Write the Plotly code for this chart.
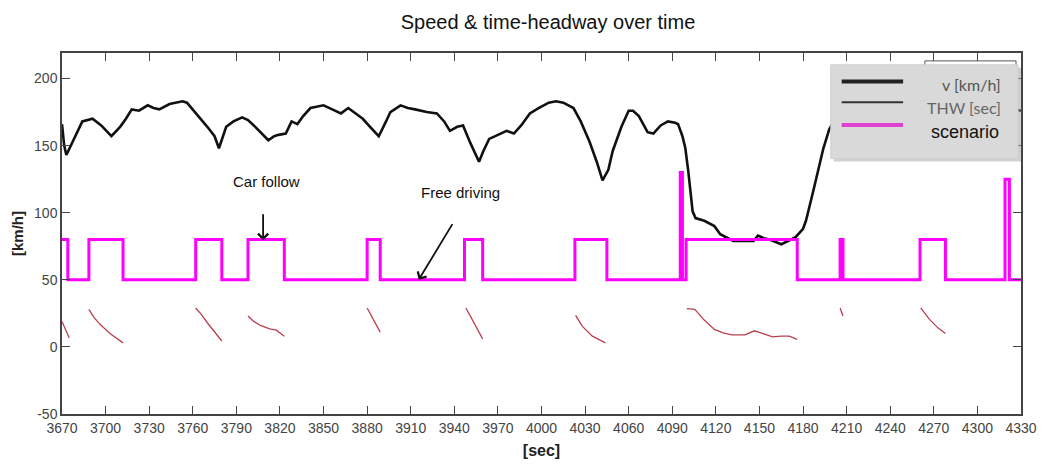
import plotly.graph_objects as go

# ---------------- data ----------------
speed_t = [3670, 3671.5, 3673, 3676, 3680, 3684, 3691, 3697, 3704, 3710, 3714, 3718, 3723, 3729, 3733,
           3737, 3744, 3753, 3756, 3760, 3765, 3770, 3775, 3778, 3783, 3788, 3794, 3798, 3803, 3808,
           3812, 3816, 3819, 3824, 3828, 3832, 3836, 3841, 3850, 3856, 3862, 3867, 3873, 3877, 3882,
           3888, 3893, 3896, 3903, 3908, 3913, 3921, 3928, 3933, 3937, 3942, 3946, 3951, 3957, 3960,
           3964, 3970, 3976, 3981, 3986, 3992, 3998, 4005, 4010, 4015, 4022, 4027, 4033, 4038, 4042,
           4046, 4049, 4055, 4060, 4063, 4067, 4073, 4077, 4082, 4087, 4092, 4094, 4097, 4099, 4101,
           4104, 4106, 4112, 4119, 4123, 4132, 4140, 4146, 4149, 4153, 4157, 4161, 4165, 4170, 4175,
           4180, 4182, 4187, 4190, 4194, 4198, 4201, 4205, 4215, 4230, 4245, 4260, 4275, 4290, 4305,
           4320, 4330]
speed_v = [166, 150, 143, 150, 160, 168, 170, 165, 157, 164, 170, 177, 176, 180, 178,
           177, 181, 183, 182, 177, 170, 164, 157, 148, 164, 168, 171, 169, 164, 158,
           154, 157, 158, 159, 168, 166, 172, 178, 180, 177, 174, 178, 173, 170, 164,
           157, 168, 175, 180, 178, 177, 175, 174, 168, 161, 164, 165, 152, 138, 146,
           155, 158, 161, 159, 165, 174, 178, 182, 183, 182, 178, 168, 153, 138, 124,
           132, 146, 164, 176, 176, 172, 160, 159, 165, 168, 167, 166, 157, 148, 131,
           101, 96, 94, 90, 84, 79, 79, 79, 83, 81, 80, 78, 76.5, 79, 82,
           88, 94, 116, 130, 148, 162, 168, 174, 178, 176, 180, 177, 181, 178, 175,
           178, 176]

scen_t = [3670, 3674, 3688.5, 3712, 3762, 3780, 3798, 3823, 3880, 3889, 3947, 3959.5, 4023, 4045,
          4095.5, 4097, 4099.5, 4176, 4205.5, 4207.5, 4260.5, 4278, 4319, 4322, 4330]
scen_v = [80, 50, 80, 50, 80, 50, 80, 50, 80, 50, 80, 50, 80, 50,
          130, 50, 80, 50, 80, 50, 80, 50, 125, 50, 50]

thw_segments_t = [
    [3670, 3672.5, 3675],
    [3688.5, 3692, 3696, 3703, 3712],
    [3762, 3766, 3770, 3775, 3780],
    [3798, 3802, 3806.5, 3813, 3817.5, 3823],
    [3880, 3884.5, 3889],
    [3948, 3953, 3959.5],
    [4023.5, 4028, 4035, 4044],
    [4100, 4105.5, 4112, 4119, 4125, 4131, 4140, 4146.5, 4153.5, 4159, 4165, 4170.5, 4176],
    [4205.5, 4207.5],
    [4261, 4267, 4273, 4278],
]
thw_segments_v = [
    [19, 13, 6.6],
    [28, 22, 17, 10, 3],
    [29, 24, 18, 11, 4.4],
    [23, 19, 16, 13.5, 12.5, 8],
    [29, 20, 11],
    [29, 19, 6],
    [23.5, 15.5, 8, 3],
    [28.5, 28, 20, 13, 10.5, 9, 9, 12, 9.6, 7.5, 8, 8, 5.6],
    [29, 23],
    [29, 20.5, 14, 10],
]

x_ticks = list(range(3670, 4331, 30))
y_ticks = [-50, 0, 50, 100, 150, 200]

# flatten THW segments with gaps
thw_t, thw_v = [], []
for ts, vs in zip(thw_segments_t, thw_segments_v):
    thw_t += ts + [None]
    thw_v += vs + [None]

fig = go.Figure()
fig.add_trace(go.Scatter(x=speed_t, y=speed_v, mode="lines", name="v [km/h]",
                         line=dict(color="#111111", width=2.6), showlegend=False))
fig.add_trace(go.Scatter(x=thw_t, y=thw_v, mode="lines", name="THW [sec]",
                         line=dict(color="#b8404e", width=1.3), connectgaps=False, showlegend=False))
fig.add_trace(go.Scatter(x=scen_t, y=scen_v, mode="lines", name="scenario", line_shape="hv",
                         line=dict(color="#ff00ff", width=3), showlegend=False))

# ---------------- layout ----------------
FW, FH = 1049, 469
L, R, T, B = 62, 1030, 53, 419   # plot area in page pixels
W, H = R - L, B - T
def px(x):
    return (x - L) / W
def py(y):
    return (B - y) / H

shapes = []
# stray frame behind legend
shapes.append(dict(type="rect", xref="paper", yref="paper", x0=px(933), x1=px(1025), y0=py(75), y1=py(61),
                   line=dict(color="#555555", width=1), fillcolor="white"))
# legend shadow & box
shapes.append(dict(type="rect", xref="paper", yref="paper", x0=px(841), x1=px(1030), y0=py(163), y1=py(68),
                   line=dict(width=0), fillcolor="rgba(150,150,150,0.45)"))
shapes.append(dict(type="rect", xref="paper", yref="paper", x0=px(838), x1=px(1027), y0=py(160), y1=py(65),
                   line=dict(color="#cfcfcf", width=1), fillcolor="#d9d9d9"))
shapes.append(dict(type="line", xref="paper", yref="paper", x0=px(849), x1=px(911), y0=py(82), y1=py(82),
                   line=dict(color="#222222", width=4)))
shapes.append(dict(type="line", xref="paper", yref="paper", x0=px(849), x1=px(911), y0=py(103), y1=py(103),
                   line=dict(color="#333333", width=2)))
shapes.append(dict(type="line", xref="paper", yref="paper", x0=px(849), x1=px(911), y0=py(126), y1=py(126),
                   line=dict(color="#e040d0", width=4)))

annotations = [
    dict(xref="paper", yref="paper", x=px(1012), y=py(85), xanchor="right", yanchor="middle",
         text="v [km/h]", showarrow=False, font=dict(family="Lato, Open Sans, sans-serif", size=16, color="#555555")),
    dict(xref="paper", yref="paper", x=px(1012), y=py(108), xanchor="right", yanchor="middle",
         text="THW [sec]", showarrow=False, font=dict(family="Lato, Open Sans, sans-serif", size=16, color="#666666")),
    dict(xref="paper", yref="paper", x=px(1010), y=py(133), xanchor="right", yanchor="middle",
         text="scenario", showarrow=False, font=dict(family="Liberation Sans, Arial, sans-serif", size=18, color="#111111")),
    # text labels
    dict(x=3810.5, y=123.5, xref="x", yref="y", text="Car follow", showarrow=False,
         font=dict(family="Liberation Sans, Arial, sans-serif", size=15, color="#111111")),
    dict(x=3944, y=114.7, xref="x", yref="y", text="Free driving", showarrow=False,
         font=dict(family="Liberation Sans, Arial, sans-serif", size=15, color="#111111")),
    # arrows
    dict(x=3808.4, y=79.4, ax=3808.4, ay=100, xref="x", yref="y", axref="x", ayref="y", text="",
         showarrow=True, arrowhead=4, arrowsize=1.1, arrowwidth=1.8, arrowcolor="#111111"),
    dict(x=3915.5, y=50, ax=3939.3, ay=92.6, xref="x", yref="y", axref="x", ayref="y", text="",
         showarrow=True, arrowhead=4, arrowsize=1.1, arrowwidth=1.8, arrowcolor="#111111"),
]

axis_font = dict(family="Liberation Sans, Arial, sans-serif", size=14, color="#444444")
fig.update_layout(
    width=FW, height=FH,
    margin=dict(l=L, r=FW - R, t=T, b=FH - B, pad=0),
    paper_bgcolor="white", plot_bgcolor="white",
    title=dict(text="Speed & time-headway over time", x=548 / FW, xanchor="center",
               y=1 - 22 / FH, yanchor="middle",
               font=dict(family="Liberation Sans, Arial, sans-serif", size=20, color="#111111")),
    shapes=shapes, annotations=annotations,
    showlegend=False,
)
fig.update_xaxes(range=[3670, 4330], tickvals=x_ticks, ticktext=[str(v) for v in x_ticks],
                 showgrid=False, zeroline=False, showline=True, linecolor="#444444", linewidth=1.5,
                 mirror="ticks", ticks="inside", ticklen=8, tickcolor="#444444", tickwidth=1.2,
                 tickfont=axis_font,
                 title=dict(text="<b>[sec]</b>", standoff=10,
                            font=dict(family="Liberation Sans, Arial, sans-serif", size=16, color="#222222")))
fig.update_yaxes(range=[-50, 219], tickvals=y_ticks, ticktext=[str(v) for v in y_ticks],
                 showgrid=False, zeroline=False, showline=True, linecolor="#444444", linewidth=1.5,
                 mirror="ticks", ticks="inside", ticklen=8, tickcolor="#444444", tickwidth=1.2,
                 tickfont=axis_font,
                 title=dict(text="<b>[km/h]</b>", standoff=7,
                            font=dict(family="Liberation Sans, Arial, sans-serif", size=15, color="#222222")))

fig.write_html("out.html", config={"displayModeBar": False})

# remove the default page margin so the figure fills the 1049x469 window exactly
with open("out.html", "r", encoding="utf-8") as f:
    html = f.read()
html = html.replace("<head>", "<head><style>html,body{margin:0;padding:0;overflow:hidden;}</style>", 1)
with open("out.html", "w", encoding="utf-8") as f:
    f.write(html)
